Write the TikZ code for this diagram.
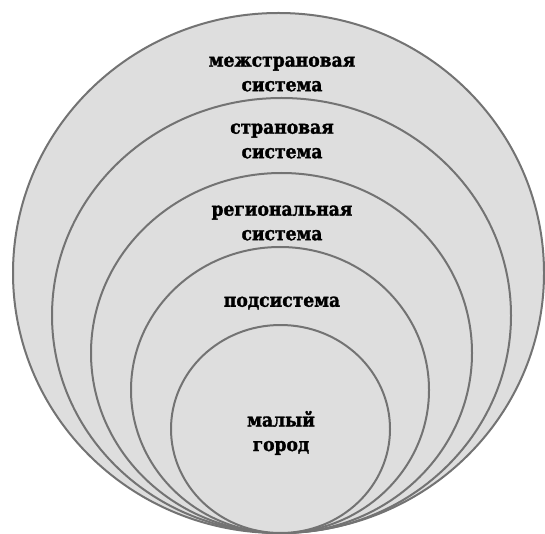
\documentclass[tikz,border=0pt]{standalone}
\usepackage{fontspec}
\setmainfont{DejaVu Serif Condensed}[BoldFeatures={FakeBold=1.6}]
\tikzset{
  ring/.style={draw=ringline, fill=ringfill, line width=2pt},
  lbl/.style={font=\bfseries\fontsize{19}{24.5}\selectfont, align=center, text=black, inner sep=0pt}
}
\definecolor{ringline}{HTML}{737373}
\definecolor{ringfill}{HTML}{DEDEDE}
\begin{document}
\begin{tikzpicture}[x=1pt,y=-1pt]
\useasboundingbox (0,0) rectangle (545,534);
\fill[white] (0,0) rectangle (545,534);
\draw[ring] (278.5,273) ellipse [x radius=265.5, y radius=260];
\draw[ring] (281.5,315.5) ellipse [x radius=229.5, y radius=217.5];
\draw[ring] (281.5,353) ellipse [x radius=190.5, y radius=180];
\draw[ring] (280,390) ellipse [x radius=149, y radius=143];
\draw[ring] (280.5,429) ellipse [x radius=109.5, y radius=104];
\node[lbl] (l1) at (282,74) {межстрановая\\система};
\node[lbl] (l2) at (282,141) {страновая\\система};
\node[lbl] (l3) at (282,223) {региональная\\система};
\node[lbl] (l4) at (282,303) {подсистема};
\node[lbl] (l5) at (281,433) {малый\\город};
\end{tikzpicture}
\end{document}
